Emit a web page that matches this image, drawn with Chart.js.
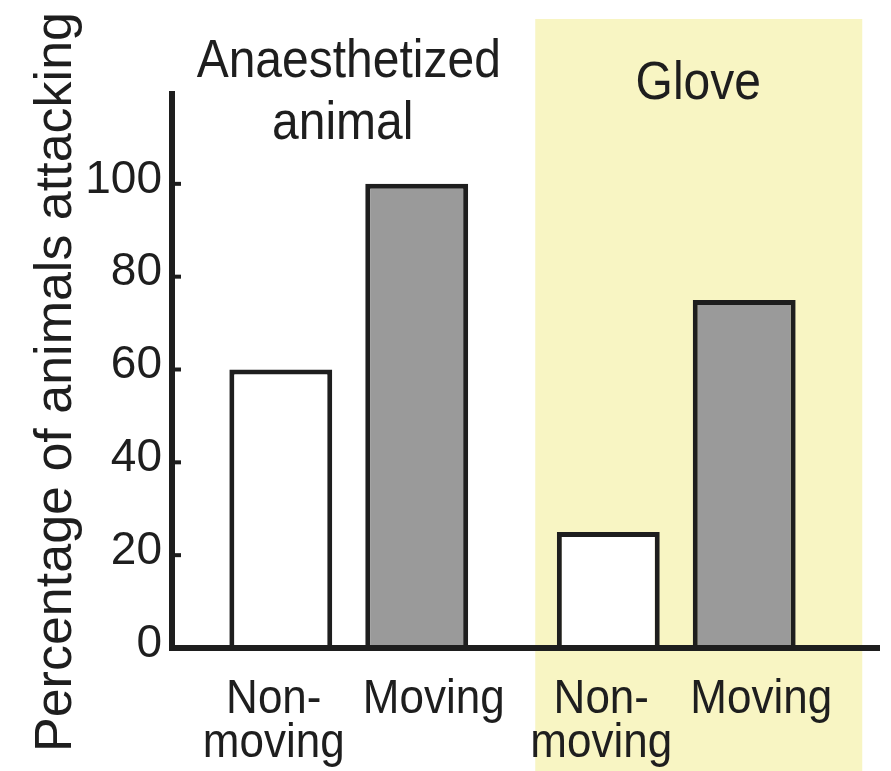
<!DOCTYPE html>
<html>
<head>
<meta charset="utf-8">
<script src="https://cdn.jsdelivr.net/npm/chart.js@4.4.0/dist/chart.umd.min.js"></script>
<style>
  html, body { margin: 0; padding: 0; background: #fff; }
  canvas { display: block; }
</style>
</head>
<body>
<canvas id="chart" width="891" height="771"></canvas>
<script>
  // one group per stimulus, one bar per condition inside it
  var groups = ['Anaesthetized animal', 'Glove'];
  var conditions = ['Non-moving', 'Moving'];
  var nonMoving = [60, 25];
  var moving = [100, 75];
  var yTicks = [0, 20, 40, 60, 80, 100];
  var yMax = 120;
  var yTitle = 'Percentage of animals attacking';

  var ink = '#1e1e1e';
  var family = "'Liberation Sans', Arial, Helvetica, sans-serif";

  // text in the figure is a bit taller than the font, stretch it
  function tallText(ctx, str, x, y) {
    ctx.save();
    ctx.translate(x, y);
    ctx.scale(1, 1.1);
    ctx.fillText(str, 0, 0);
    ctx.restore();
  }

  var figurePlugin = {
    id: 'figure',
    beforeDatasetsDraw: function (chart) {
      // yellow panel behind the glove group
      var ctx = chart.ctx;
      var cx = chart.scales.x.getPixelForValue(1);
      ctx.save();
      ctx.fillStyle = '#f8f5c3';
      ctx.fillRect(cx - 141, 19, 327, chart.height - 19);
      ctx.restore();
    },
    afterDatasetsDraw: function (chart) {
      var ctx = chart.ctx, y = chart.scales.y, area = chart.chartArea;
      var axisX = area.left - 13;
      var zero = y.getPixelForValue(0);
      ctx.save();
      ctx.strokeStyle = ink;
      ctx.lineCap = 'butt';
      // y axis
      ctx.lineWidth = 6;
      ctx.beginPath();
      ctx.moveTo(axisX, y.getPixelForValue(yMax));
      ctx.lineTo(axisX, zero + 3);
      ctx.stroke();
      // inward tick marks
      ctx.lineWidth = 4;
      yTicks.forEach(function (v) {
        if (v === 0) return;
        var py = y.getPixelForValue(v);
        ctx.beginPath();
        ctx.moveTo(axisX, py);
        ctx.lineTo(axisX + 9, py);
        ctx.stroke();
      });
      // x axis
      ctx.lineWidth = 6;
      ctx.beginPath();
      ctx.moveTo(axisX - 3, zero);
      ctx.lineTo(area.right + 40, zero);
      ctx.stroke();
      ctx.restore();
    },
    afterDraw: function (chart) {
      var ctx = chart.ctx, x = chart.scales.x;
      ctx.save();
      ctx.fillStyle = ink;
      ctx.textAlign = 'center';
      ctx.textBaseline = 'alphabetic';

      // group titles
      ctx.font = '48px ' + family;
      var words = groups[0].split(' ');
      tallText(ctx, words[0], x.getPixelForValue(0), 77);
      tallText(ctx, words[1], x.getPixelForValue(0) - 6, 139);
      tallText(ctx, groups[1], x.getPixelForValue(1) + 22, 99);

      // condition labels under each bar
      ctx.font = '44px ' + family;
      conditions.forEach(function (name, d) {
        var meta = chart.getDatasetMeta(d);
        var cut = name.indexOf('-');
        var lines = cut > 0 ? [name.slice(0, cut + 1), name.slice(cut + 1)] : [name];
        var shift = d === 0 ? -7 : 17;
        meta.data.forEach(function (bar) {
          lines.forEach(function (line, k) {
            tallText(ctx, line, bar.x + shift, 713 + k * 44);
          });
        });
      });

      // rotated y title
      ctx.font = '52px ' + family;
      ctx.translate(57, 382);
      ctx.rotate(-Math.PI / 2);
      ctx.textBaseline = 'middle';
      ctx.fillText(yTitle, 0, 0);
      ctx.restore();
    }
  };

  var ctx = document.getElementById('chart').getContext('2d');
  window.attackChart = new Chart(ctx, {
    type: 'bar',
    data: {
      labels: groups,
      datasets: [
        {
          label: conditions[0],
          data: nonMoving,
          backgroundColor: '#ffffff',
          borderColor: ink,
          borderWidth: 5
        },
        {
          label: conditions[1],
          data: moving,
          backgroundColor: '#9a9a9a',
          borderColor: ink,
          borderWidth: 5
        }
      ]
    },
    options: {
      responsive: false,
      animation: false,
      categoryPercentage: 0.83,
      barPercentage: 0.757,
      layout: { padding: { top: 91, bottom: 123, left: 0, right: 51 } },
      plugins: {
        legend: { display: false },
        tooltip: { enabled: false }
      },
      scales: {
        x: { display: false },
        y: {
          min: 0,
          max: yMax,
          afterBuildTicks: function (scale) {
            scale.ticks = yTicks.map(function (v) { return { value: v }; });
          },
          afterFit: function (scale) { scale.width = 185; },
          grid: { display: false, drawTicks: false },
          border: { display: false },
          ticks: {
            color: ink,
            padding: 23,
            labelOffset: -4,
            font: { family: family, size: 46 }
          }
        }
      }
    },
    plugins: [figurePlugin]
  });
</script>
</body>
</html>
